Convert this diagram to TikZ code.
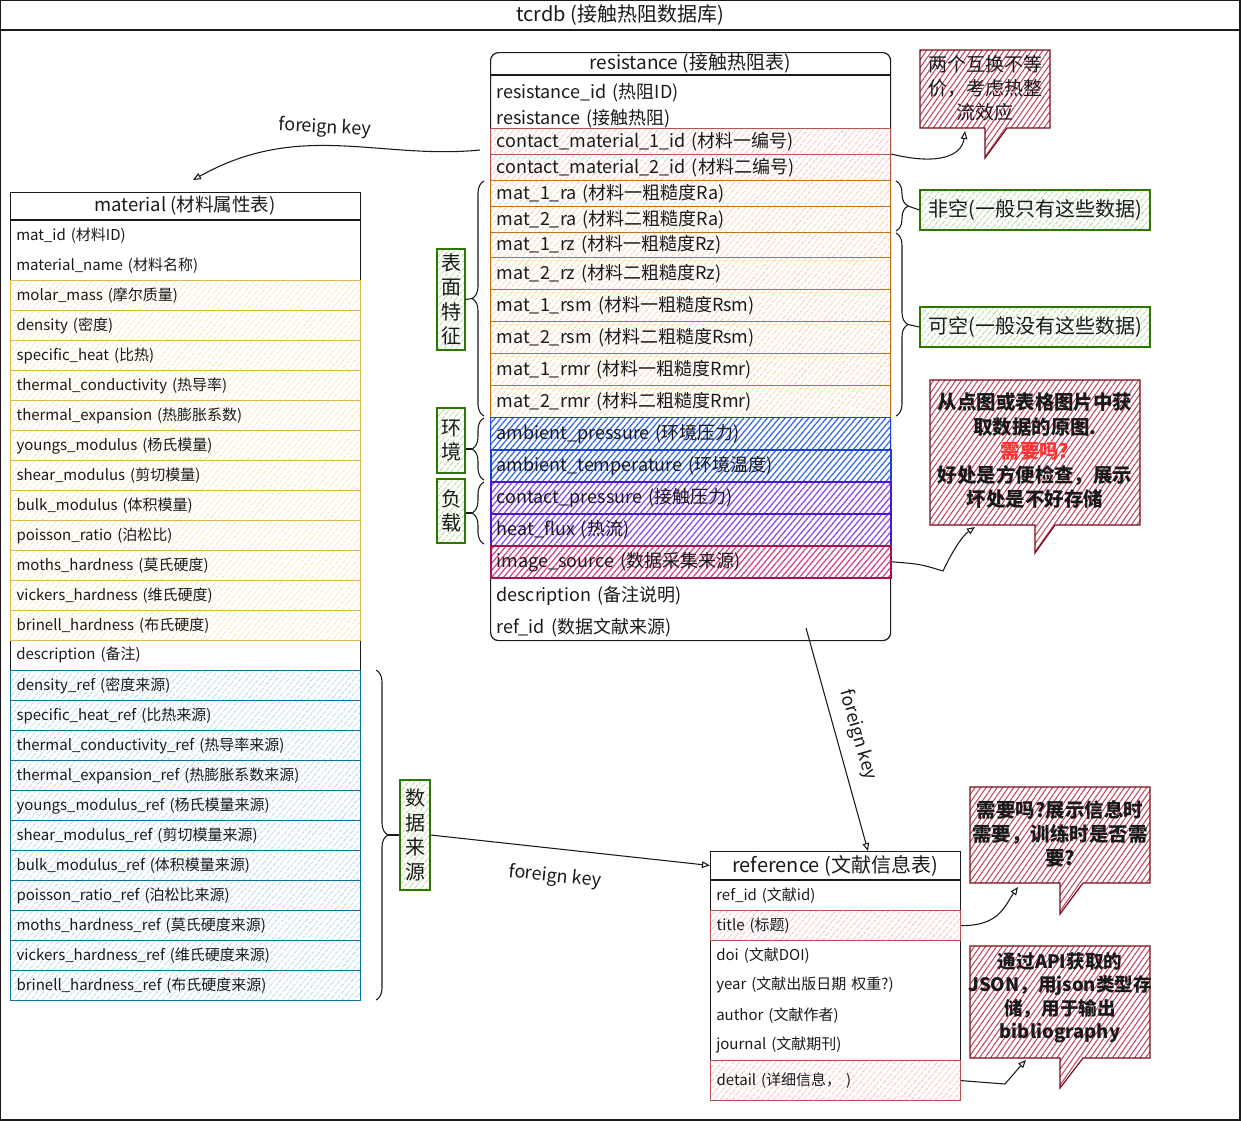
\documentclass[tikz,border=0pt]{standalone}
\usepackage{fontspec}
\setmainfont{Noto Sans CJK SC}
\usetikzlibrary{patterns.meta,arrows.meta,decorations.pathreplacing}

\definecolor{resRedB}{HTML}{B85450}
\definecolor{resRedH}{HTML}{F0A8A6}
\definecolor{orgB}{HTML}{C0721B}
\definecolor{orgH}{HTML}{F2BC84}
\definecolor{yelB}{HTML}{D9B84E}
\definecolor{yelH}{HTML}{F0DC98}
\definecolor{bluB}{HTML}{10739E}
\definecolor{bluH}{HTML}{95C9E6}
\definecolor{ambB}{HTML}{1F3FD0}
\definecolor{ambH}{HTML}{3568EC}
\definecolor{purB}{HTML}{4A16D2}
\definecolor{purH}{HTML}{8A48F2}
\definecolor{pinkB}{HTML}{A8104A}
\definecolor{pinkH}{HTML}{D8408A}
\definecolor{noteB}{HTML}{7A0A14}
\definecolor{noteH}{HTML}{BE3E5C}
\definecolor{grnB}{HTML}{2D7600}
\definecolor{grnH}{HTML}{8FC86C}
\definecolor{askRed}{HTML}{FF3333}
\definecolor{ink}{HTML}{1A1A1A}

\tikzset{
  hatch/.style 2 args={draw=#1, line width=0.9pt,
    pattern={Lines[angle=50,distance=4pt,line width=0.75pt]}, pattern color=#2},
  hatchstrong/.style 2 args={draw=#1, line width=1.2pt,
    pattern={Lines[angle=50,distance=3.4pt,line width=0.95pt]}, pattern color=#2},
  notehatch/.style={draw=noteB, line width=0.9pt,
    pattern={Lines[angle=55,distance=3.4pt,line width=0.75pt]}, pattern color=noteH},
  cell/.style={anchor=north west, inner xsep=4.5pt, inner ysep=0pt, align=left, text=ink},
  rrow/.style={cell, text width=291pt, minimum height=#1*0.75pt,
    font=\fontsize{13.5}{15}\selectfont},
  rrow/.default=26,
  mrow/.style={cell, text width=253.5pt, minimum height=22.5pt,
    font=\fontsize{11.25}{13}\selectfont},
  frow/.style={cell, text width=178.5pt, minimum height=#1*0.75pt,
    font=\fontsize{11.25}{13}\selectfont},
  frow/.default=30,
  tabframe/.style={draw=ink, line width=0.9pt, anchor=north west, inner sep=0pt},
  head/.style={font=\fontsize{14.25}{16}\selectfont, text=ink},
  gbox/.style={hatch={grnB}{grnH}, align=center, inner sep=0pt, text=ink,
    font=\fontsize{15}{18.4}\selectfont},
  notetext/.style={align=center, text=ink, font=\bfseries\fontsize{14.6}{18.2}\selectfont},
  brc/.style={draw=ink, line width=0.8pt, decorate, decoration={brace, amplitude=9pt}},
  link/.style={draw=ink, line width=0.8pt},
  fk/.style={link, -{Triangle[open, length=6pt, width=5pt]}},
  fklabel/.style={font=\fontsize{13.5}{15}\selectfont, text=ink},
}

\begin{document}
\begin{tikzpicture}[x=0.75pt, y=-0.75pt]
\useasboundingbox (0,0) rectangle (1241,1121);

% outer frame with title bar
\draw[line width=0.9pt, draw=ink] (0,0) rectangle (1240,1120);
\draw[line width=0.9pt, draw=ink] (0,30) -- (1240,30);
\node[head, font=\fontsize{15}{17}\selectfont] (title) at (620,15) {tcrdb (接触热阻数据库)};

% ---------------- resistance table ----------------
\node[tabframe, rounded corners=6pt, minimum width=300pt, minimum height=441pt] (res) at (490,52) {};
\draw[line width=0.9pt, draw=ink] (490,75) -- (890,75);
\node[head] (reshead) at (690,63) {resistance (接触热阻表)};

\node[rrow] (r1) at (490,79) {resistance\_id (热阻ID)};
\node[rrow] (r2) at (490,105) {resistance (接触热阻)};
\node[rrow, hatch={resRedB}{resRedH}] (cm1) at (490,128) {contact\_material\_1\_id (材料一编号)};
\node[rrow, hatch={resRedB}{resRedH}] (cm2) at (490,154) {contact\_material\_2\_id (材料二编号)};
\node[rrow, hatch={orgB}{orgH}] (ra1) at (490,180) {mat\_1\_ra (材料一粗糙度Ra)};
\node[rrow, hatch={orgB}{orgH}] (ra2) at (490,206) {mat\_2\_ra (材料二粗糙度Ra)};
\node[rrow=25, hatch={orgB}{orgH}] (rz1) at (490,232) {mat\_1\_rz (材料一粗糙度Rz)};
\node[rrow=32, hatch={orgB}{orgH}] (rz2) at (490,257) {mat\_2\_rz (材料二粗糙度Rz)};
\node[rrow=32, hatch={orgB}{orgH}] (rsm1) at (490,289) {mat\_1\_rsm (材料一粗糙度Rsm)};
\node[rrow=32, hatch={orgB}{orgH}] (rsm2) at (490,321) {mat\_2\_rsm (材料二粗糙度Rsm)};
\node[rrow=32, hatch={orgB}{orgH}] (rmr1) at (490,353) {mat\_1\_rmr (材料一粗糙度Rmr)};
\node[rrow=32, hatch={orgB}{orgH}] (rmr2) at (490,385) {mat\_2\_rmr (材料二粗糙度Rmr)};
\node[rrow=32, hatchstrong={ambB}{ambH}] (amp) at (490,417) {ambient\_pressure (环境压力)};
\node[rrow=32, hatchstrong={ambB}{ambH}] (amt) at (490,449) {ambient\_temperature (环境温度)};
\node[rrow=32, hatchstrong={purB}{purH}] (cp) at (490,481) {contact\_pressure (接触压力)};
\node[rrow=32, hatchstrong={purB}{purH}] (hf) at (490,513) {heat\_flux (热流)};
\node[rrow=32, hatchstrong={pinkB}{pinkH}] (img) at (490,545) {image\_source (数据采集来源)};
\node[rrow=32] (rdesc) at (490,580) {description (备注说明)};
\node[rrow=32] (rref) at (490,611) {ref\_id (数据文献来源)};

% ---------------- material table ----------------
\node[tabframe, minimum width=262.5pt, minimum height=606pt] (mat) at (10,192) {};
\draw[line width=0.9pt, draw=ink] (10,220) -- (360,220);
\node[head, font=\fontsize{13.875}{16}\selectfont] (mathead) at (185,206) {material (材料属性表)};

\foreach \t [count=\i from 0] in {{mat\_id (材料ID)}, {material\_name (材料名称)}}
  \node[mrow] (m\i) at (10,220+30*\i) {\t};
\foreach \t [count=\i from 2] in {{molar\_mass (摩尔质量)}, {density (密度)}, {specific\_heat (比热)},
    {thermal\_conductivity (热导率)}, {thermal\_expansion (热膨胀系数)}, {youngs\_modulus (杨氏模量)},
    {shear\_modulus (剪切模量)}, {bulk\_modulus (体积模量)}, {poisson\_ratio (泊松比)},
    {moths\_hardness (莫氏硬度)}, {vickers\_hardness (维氏硬度)}, {brinell\_hardness (布氏硬度)}}
  \node[mrow, hatch={yelB}{yelH}] (m\i) at (10,220+30*\i) {\t};
\node[mrow] (m14) at (10,640) {description (备注)};
\foreach \t [count=\i from 15] in {{density\_ref (密度来源)}, {specific\_heat\_ref (比热来源)},
    {thermal\_conductivity\_ref (热导率来源)}, {thermal\_expansion\_ref (热膨胀系数来源)},
    {youngs\_modulus\_ref (杨氏模量来源)}, {shear\_modulus\_ref (剪切模量来源)},
    {bulk\_modulus\_ref (体积模量来源)}, {poisson\_ratio\_ref (泊松比来源)},
    {moths\_hardness\_ref (莫氏硬度来源)}, {vickers\_hardness\_ref (维氏硬度来源)},
    {brinell\_hardness\_ref (布氏硬度来源)}}
  \node[mrow, hatch={bluB}{bluH}] (m\i) at (10,220+30*\i) {\t};

% ---------------- reference table ----------------
\node[tabframe, minimum width=187.5pt, minimum height=186.75pt] (ref) at (710,851) {};
\draw[line width=0.9pt, draw=ink] (710,880) -- (960,880);
\node[head, font=\fontsize{15}{17}\selectfont] (refhead) at (835,865.5) {reference (文献信息表)};
\node[frow] (f1) at (710,880) {ref\_id (文献id)};
\node[frow, hatch={resRedB}{resRedH}] (f2) at (710,910) {title (标题)};
\node[frow] (f3) at (710,940) {doi (文献DOI)};
\node[frow] (f4) at (710,970) {year (文献出版日期 权重?)};
\node[frow] (f5) at (710,1000) {author (文献作者)};
\node[frow] (f6) at (710,1030) {journal (文献期刊)};
\node[frow=40, hatch={resRedB}{resRedH}] (f7) at (710,1060) {detail (详细信息， )};

% ---------------- group labels and braces ----------------
\node[gbox, minimum width=21pt, minimum height=75.75pt] (gsurf) at (451,299.5) {表\\面\\特\\征};
\node[gbox, minimum width=21pt, minimum height=48.75pt] (genv) at (451,440.5) {环\\境};
\node[gbox, minimum width=21pt, minimum height=48pt] (gload) at (451,511) {负\\载};
\node[gbox, minimum width=22.5pt, minimum height=82.5pt] (gsrc) at (415,835) {数\\据\\来\\源};
\node[gbox, minimum width=172.5pt, minimum height=30pt] (gnn) at (1035,210) {非空(一般只有这些数据)};
\node[gbox, minimum width=172.5pt, minimum height=30pt] (gnull) at (1035,327) {可空(一般没有这些数据)};

\draw[brc] (484,416) -- (484,181);
\draw[brc] (484,480) -- (484,418);
\draw[brc] (484,544) -- (484,482);
\draw[brc] (896,181) -- (896,231);
\draw[brc] (896,233) -- (896,416);
\draw[brc] (376,670) -- (376,1000);

\coordinate (tipSurf) at (472,298.5);
\coordinate (tipEnv) at (472,449);
\coordinate (tipLoad) at (472,513);
\coordinate (tipNN) at (908,206);
\coordinate (tipNull) at (908,324.5);
\coordinate (tipSrc) at (388,835);
\draw[link] (tipSurf) -- (gsurf.east);
\draw[link] (tipEnv) -- (genv.east |- tipEnv);
\draw[link] (tipLoad) -- (gload.east |- tipLoad);
\draw[link] (tipNN) -- (gnn.west);
\draw[link] (tipNull) -- (gnull.west);
\draw[link] (tipSrc) -- (gsrc.west);

% ---------------- notes ----------------
\path[notehatch] (920,50) -- (1050,50) -- (1050,128) -- (1007,128) -- (985,158)
  -- (985,128) -- (920,128) -- cycle;
\node[align=center, text=ink, font=\fontsize{14.25}{18}\selectfont] (n1) at (985,88)
  {两个互换不等\\价，考虑热整\\流效应};

\path[notehatch] (930,380) -- (1140,380) -- (1140,525) -- (1055,525) -- (1035,553)
  -- (1035,525) -- (930,525) -- cycle;
\node[notetext] (n2) at (1035,451)
  {从点图或表格图片中获\\取数据的原图.\\{\color{askRed}需要吗?}\\好处是方便检查，展示\\坏处是不好存储};

\path[notehatch] (970,787) -- (1150,787) -- (1150,883) -- (1083,883) -- (1060,914)
  -- (1060,883) -- (970,883) -- cycle;
\node[notetext] (n3) at (1060,834) {需要吗?展示信息时\\需要，训练时是否需\\要?};

\path[notehatch] (970,946) -- (1150,946) -- (1150,1058) -- (1083,1058) -- (1060,1088)
  -- (1060,1058) -- (970,1058) -- cycle;
\node[notetext, font=\bfseries\fontsize{13.9}{17.6}\selectfont] (n4) at (1060,998)
  {通过API获取的\\JSON，用json类型存\\储，用于输出\\bibliography};

\coordinate (n1in) at (965,131);
\coordinate (n2in) at (975,527);
\coordinate (n3in) at (1018,887);
\coordinate (n4in) at (1026,1060);

\draw[fk] (cm2.north east) .. controls (940,166) and (962,155) .. (n1in);
\draw[fk] (img.east) .. controls (920,564) .. (943,571) .. controls (952,552) and (962,536) .. (n2in);
\draw[fk] (f2.east) .. controls (1000,926) and (1005,905) .. (n3in);
\draw[fk] (f7.east) -- (1005,1084) .. controls (1012,1075) .. (n4in);

% ---------------- foreign keys ----------------
\coordinate (fk1s) at (480,150);
\coordinate (fk1e) at (193,180);
\draw[fk] (fk1s) .. controls (380,160) and (300,120) .. (fk1e);
\node[fklabel, rotate=-3] (fkl1) at (325,128) {foreign key};

\coordinate (fk2s) at (806,628);
\coordinate (fk2e) at (868,851);
\draw[fk] (fk2s) -- (fk2e);
\node[fklabel, rotate=-74] (fkl2) at (858,735) {foreign key};

\draw[fk] (gsrc.east) -- (refhead.west -| ref.west);
\node[fklabel, rotate=-6] (fkl3) at (555,877) {foreign key};

\end{tikzpicture}
\end{document}
